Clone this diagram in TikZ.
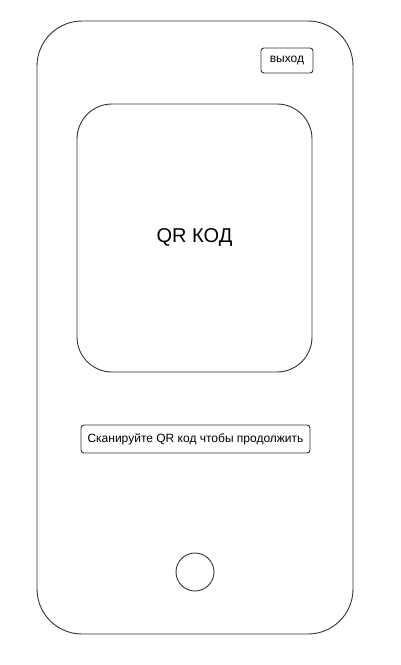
\documentclass[tikz,border=0pt]{standalone}
\usepackage{fontspec}
\setmainfont{Liberation Sans}
\usetikzlibrary{positioning, calc}

\tikzset{
    frame/.style={draw=black!80, line width=0.9pt},
    btn/.style={frame, rounded corners=3pt, inner sep=0pt, font=\fontsize{12}{14}\selectfont}
}

\begin{document}
\begin{tikzpicture}[x=1pt, y=-1pt]
\useasboundingbox (0,0) rectangle (400,665);
% phone body
\draw[frame, rounded corners=45pt] (37,21) rectangle (353,634);

% QR area
\draw[frame, rounded corners=35pt] (77,104) rectangle (312,372);
\node[font=\fontsize{20}{24}\selectfont] (qr) at (194.5,238) {QR КОД};

% exit button
\node[btn, minimum width=52pt, minimum height=25pt] (exit) at (287,60.5) {выход};

% hint
\node[btn, minimum width=229pt, minimum height=28pt] (hint) at (195.5,439) {Сканируйте QR код чтобы продолжить};

% home button
\draw[frame] (195,572) circle (19pt);
\end{tikzpicture}
\end{document}
